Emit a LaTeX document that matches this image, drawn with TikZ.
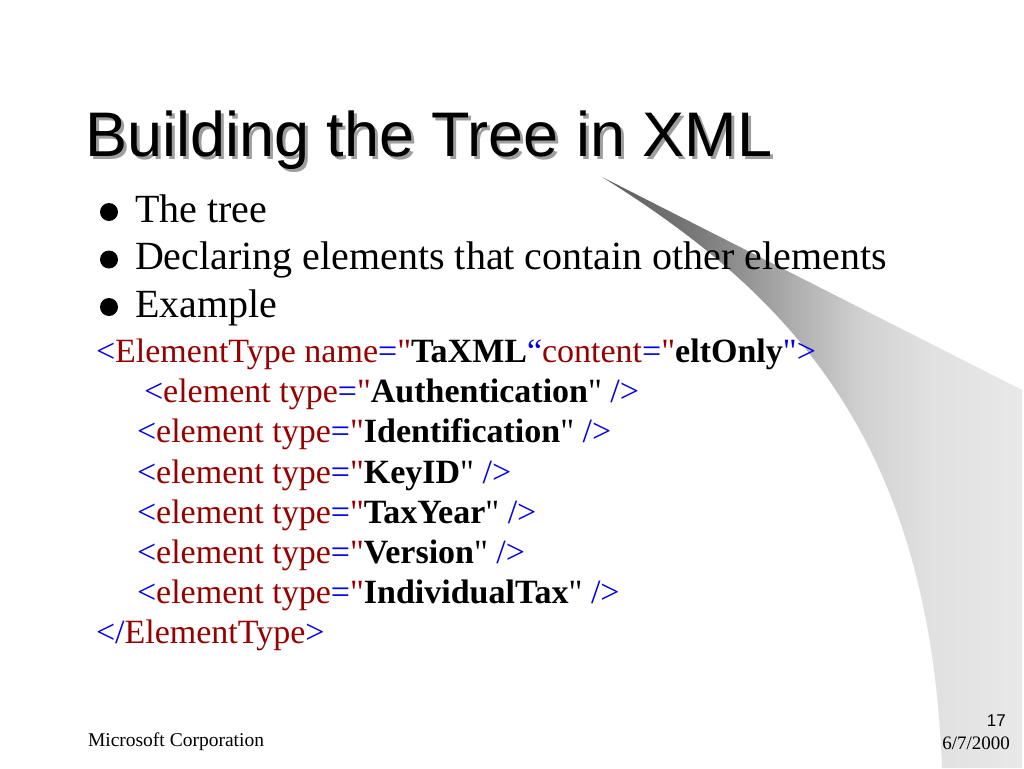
\documentclass[tikz,border=0pt]{standalone}
\usepackage{fontspec}
\setmainfont{Liberation Serif}[Ligatures=TeXOff]
\newfontfamily\arialfont{Liberation Sans}
\definecolor{xblue}{RGB}{0,0,235}
\definecolor{xred}{RGB}{150,0,0}
\pgfdeclarehorizontalshading{swoosh}{100bp}{color(0bp)=(black!64); color(25bp)=(black!64); color(36bp)=(black!53); color(46bp)=(black!35); color(56bp)=(black!18); color(64bp)=(black!12); color(75bp)=(black!9); color(100bp)=(black!9)}
\newcommand{\xb}[1]{\textcolor{xblue}{#1}}
\newcommand{\xr}[1]{\textcolor{xred}{#1}}
\newcommand{\xv}[1]{\textbf{#1}}
\tikzset{
  txt/.style={anchor=base west, inner sep=0pt, outer sep=0pt},
  titlefont/.style={font=\arialfont\fontsize{63}{70}\selectfont},
  bodyfont/.style={font=\fontsize{40}{48}\selectfont},
  codefont/.style={font=\fontsize{34}{40}\selectfont},
  bulletdot/.style={circle, fill=black, minimum size=18pt, inner sep=0pt},
}
\begin{document}
\begin{tikzpicture}[x=1pt,y=-1pt]
\useasboundingbox (0,0) rectangle (1024,768);
\fill[white] (0,0) rectangle (1024,768);
% swoosh
\path[shading=swoosh] (602,177) -- (1022,390) -- (1022,768) -- (942,768)
   .. controls (930,450) and (800,300) .. (602,177) -- cycle;
% title
\node[txt, titlefont, text=black!38] (titleshadow) at (88,159.5) {Building the Tree in XML};
\node[txt, titlefont] (title) at (85,156.5) {Building the Tree in XML};
% bullets
\node[bulletdot] (d1) at (109,212) {};
\node[bulletdot] (d2) at (109,259.5) {};
\node[bulletdot] (d3) at (109,307) {};
\node[txt, bodyfont] (b1) at (135,222) {The tree};
\node[txt, bodyfont] (b2) at (135,269.5) {Declaring elements that contain other elements};
\node[txt, bodyfont] (b3) at (135,317) {Example};
% code
\node[txt, codefont] (c1) at (96,362) {\xb{<}\xr{ElementType name}\xb{=}\xr{"}\xv{TaXML}\xb{“}\xr{content}\xb{=}\xr{"}\xv{eltOnly}\xb{">}};
\node[txt, codefont] (c2) at (144,402.5) {\xb{<}\xr{element type}\xb{=}\xr{"}\xv{Authentication}" \xb{/>}};
\node[txt, codefont] (c3) at (137,442.5) {\xb{<}\xr{element type}\xb{=}\xr{"}\xv{Identification}" \xb{/>}};
\node[txt, codefont] (c4) at (137,483) {\xb{<}\xr{element type}\xb{=}\xr{"}\xv{KeyID}" \xb{/>}};
\node[txt, codefont] (c5) at (137,523) {\xb{<}\xr{element type}\xb{=}\xr{"}\xv{TaxYear}" \xb{/>}};
\node[txt, codefont] (c6) at (137,563) {\xb{<}\xr{element type}\xb{=}\xr{"}\xv{Version}" \xb{/>}};
\node[txt, codefont] (c7) at (137,603) {\xb{<}\xr{element type}\xb{=}\xr{"}\xv{IndividualTax}" \xb{/>}};
\node[txt, codefont] (c8) at (96,643.5) {\xb{</}\xr{ElementType}\xb{>}};
% footer
\node[txt, font=\fontsize{19.5}{22}\selectfont] (corp) at (88,746) {Microsoft Corporation};
\node[anchor=base east, inner sep=0pt, font=\arialfont\fontsize{17}{19}\selectfont] (page) at (1006,726.5) {17};
\node[anchor=base east, inner sep=0pt, font=\fontsize{19}{22}\selectfont] (date) at (1010,749) {6/7/2000};
\end{tikzpicture}
\end{document}
